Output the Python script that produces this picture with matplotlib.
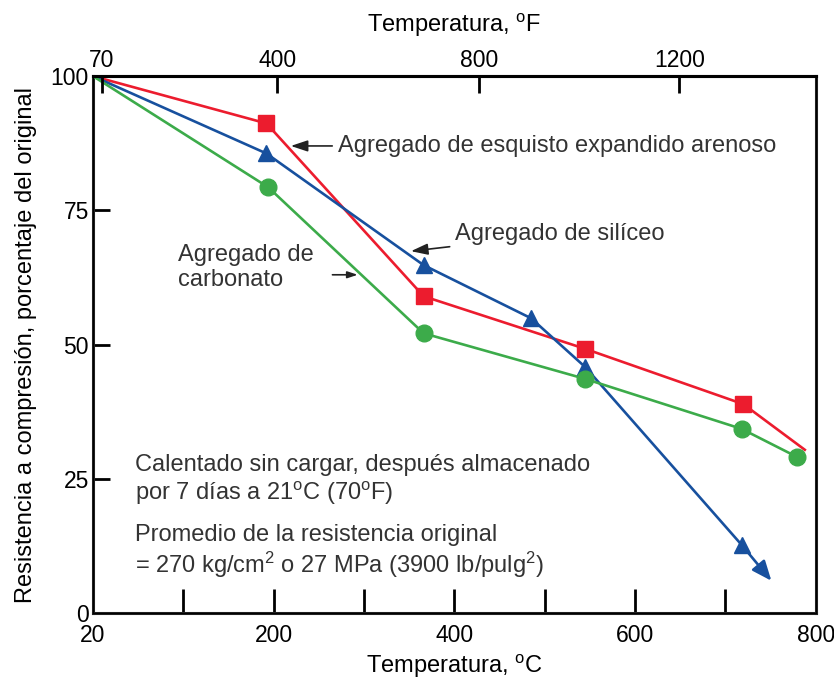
import matplotlib
matplotlib.use("Agg")
import matplotlib.pyplot as plt
from matplotlib import font_manager

names = {f.name for f in font_manager.fontManager.ttflist}
NARROW = 'Liberation Sans Narrow' if 'Liberation Sans Narrow' in names else 'Liberation Sans'
plt.rcParams['font.family'] = ['Liberation Sans', 'DejaVu Sans']
plt.rcParams['mathtext.fontset'] = 'custom'
plt.rcParams['mathtext.rm'] = 'Liberation Sans'
plt.rcParams['mathtext.it'] = 'Liberation Sans'

# plotted positions on the bottom scale (first point sits at the "20" corner)
red_x = [0, 192, 366, 545, 720, 788]
red_y = [100, 91.2, 59.0, 49.2, 38.9, 30.4]
red_marked = [1, 2, 3, 4]

blue_x = [0, 192, 366, 485, 545, 718]
blue_y = [100, 85.6, 64.8, 54.9, 45.8, 12.7]
blue_tip = (751, 6.0)

green_x = [0, 194, 366, 545, 718, 779]
green_y = [100, 79.3, 52.1, 43.6, 34.3, 29.1]

c_ticks = [0, 200, 400, 600, 800]
c_labels = ['20', '200', '400', '600', '800']
c_minor = [100, 300, 500, 700]
f_ticks = [10, 204, 427, 649]
f_labels = ['70', '400', '800', '1200']
y_ticks = [0, 25, 50, 75, 100]

RED = '#ec1c2e'
BLUE = '#17509e'
GREEN = '#3cab4a'

fig = plt.figure(figsize=(8.34, 6.83), dpi=100)
ax = fig.add_axes([0.1115, 0.1025, 0.8665, 0.786])

ax.plot(red_x, red_y, color=RED, lw=1.9, zorder=3)
ax.plot([red_x[i] for i in red_marked], [red_y[i] for i in red_marked], 's',
        color=RED, ms=12, zorder=4)

ax.plot(blue_x, blue_y, color=BLUE, lw=1.9, zorder=3)
ax.plot(blue_x[1:], blue_y[1:], '^', color=BLUE, ms=11, zorder=4)
ax.annotate('', xy=blue_tip, xytext=(blue_x[-1], blue_y[-1]),
            arrowprops=dict(arrowstyle='-|>,head_length=1.2,head_width=0.5',
                            color=BLUE, lw=1.9, shrinkA=0, shrinkB=0), zorder=4)

ax.plot(green_x, green_y, color=GREEN, lw=1.9, zorder=3)
ax.plot(green_x[1:], green_y[1:], 'o', color=GREEN, ms=12, zorder=4)

ax.set_xlim(0, 800)
ax.set_ylim(0, 100)

ax.set_xticks(c_ticks)
ax.set_xticklabels(c_labels)
ax.set_xticks(c_minor, minor=True)
ax.set_yticks(y_ticks)
ax.tick_params(axis='x', which='both', direction='in', length=17, width=2,
               labelsize=16.5, pad=8)
ax.tick_params(axis='y', direction='in', length=12, width=2, labelsize=16.5, pad=3)
for lab in ax.get_xticklabels() + ax.get_yticklabels():
    lab.set_family(NARROW)
for s in ax.spines.values():
    s.set_linewidth(2.2)
    s.set_color('#222222')

top = ax.twiny()
top.set_xlim(ax.get_xlim())
top.set_xticks(f_ticks)
top.set_xticklabels(f_labels)
top.tick_params(axis='x', direction='in', length=12, width=2, labelsize=16.5, pad=3)
for lab in top.get_xticklabels():
    lab.set_family(NARROW)
top.spines['top'].set_linewidth(2.2)
top.set_xlabel(r'Temperatura, $^{\mathrm{o}}$F', fontsize=17, family=NARROW, labelpad=12)

ax.set_xlabel(r'Temperatura, $^{\mathrm{o}}$C', fontsize=17, family=NARROW, labelpad=4)
ax.set_ylabel('Resistencia a compresión, porcentaje del original', fontsize=17,
              family=NARROW)
ax.yaxis.set_label_coords(-0.078, 0.5)

txt = dict(fontsize=17, color='#333333', zorder=5)
arr = dict(arrowstyle='-|>,head_length=0.6,head_width=0.2', color='#222222', lw=1.2,
           shrinkA=2, shrinkB=0)

ax.annotate('Agregado de esquisto expandido arenoso', xy=(219, 87.0), xytext=(271, 87.0),
            va='center', ha='left', arrowprops=arr, **txt)
ax.annotate('Agregado de silíceo', xy=(352, 67.4), xytext=(401, 70.6),
            va='center', ha='left', arrowprops=arr, **txt)
ax.text(94, 64.4, 'Agregado de\ncarbonato', va='center', ha='left', linespacing=1.2, **txt)
ax.annotate('', xy=(293, 63.0), xytext=(262, 63.0), arrowprops=arr)

ax.text(46, 24.7, 'Calentado sin cargar, después almacenado\n'
        r'por 7 días a 21$^{\mathrm{o}}$C (70$^{\mathrm{o}}$F)',
        va='center', ha='left', linespacing=1.15, **txt)
ax.text(46, 11.4, 'Promedio de la resistencia original\n'
        r'= 270 kg/cm$^2$ o 27 MPa (3900 lb/pulg$^2$)',
        va='center', ha='left', linespacing=1.15, **txt)

fig.savefig('out.png', dpi=100)
